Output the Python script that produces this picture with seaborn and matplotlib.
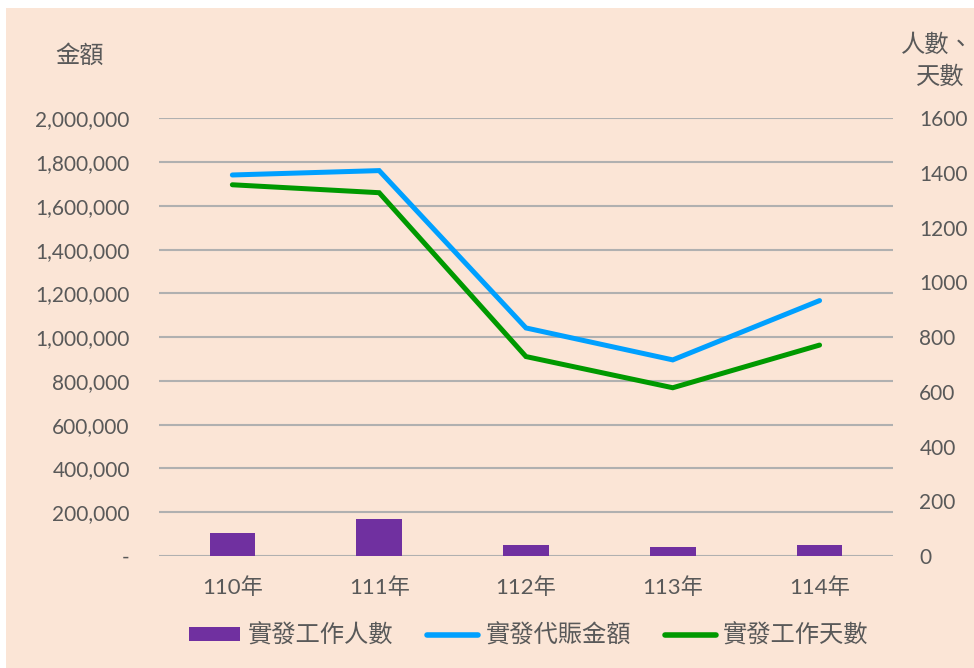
import matplotlib.pyplot as plt
import numpy as np
import pandas as pd
import seaborn as sns
from matplotlib.lines import Line2D
from matplotlib.patches import Patch, Rectangle
from matplotlib.ticker import FuncFormatter

years = ["110年", "111年", "112年", "113年", "114年"]
workers = [84, 135, 40, 33, 40]
payout = [1741000, 1761000, 1042000, 896000, 1167000]
work_days = [1357, 1328, 729, 615, 771]

BG = "#FBE5D6"
TEXT = "#595959"
PURPLE = "#7030A0"
BLUE = "#00A0FF"
GREEN = "#009900"


def money_fmt(v, _):
    return "-" if v == 0 else f"{v:,.0f}"


def main():
    sns.set_style("white")
    plt.rcParams["font.family"] = ["Lato", "Noto Sans CJK TC", "DejaVu Sans"]

    df = pd.DataFrame({"year": years, "x": np.arange(len(years)), "workers": workers,
                       "payout": payout, "days": work_days})

    fig = plt.figure(figsize=(9.74, 6.68), dpi=100, facecolor="white")
    fig.patches.append(Rectangle((6 / 974, 0), 1, 1 - 8 / 668, transform=fig.transFigure,
                                 facecolor=BG, edgecolor="none", zorder=-10))
    ax1 = fig.add_axes([0.1632, 0.1677, 0.7536, 0.6552])
    ax2 = ax1.twinx()
    for ax in (ax1, ax2):
        ax.set_facecolor("none")
        for s in ax.spines.values():
            s.set_visible(False)

    sns.barplot(data=df, x="year", y="workers", ax=ax2, color=PURPLE, width=0.31,
                saturation=1, linewidth=0)
    sns.lineplot(data=df, x="x", y="payout", ax=ax1, color=BLUE, linewidth=3.6,
                 solid_capstyle="round", solid_joinstyle="miter")
    sns.lineplot(data=df, x="x", y="days", ax=ax2, color=GREEN, linewidth=3.6,
                 solid_capstyle="round", solid_joinstyle="miter")

    ax1.set_xlim(-0.5, len(years) - 0.5)
    ax1.set_ylim(0, 2000000)
    ax1.set_yticks(np.arange(0, 2000001, 200000))
    ax1.yaxis.set_major_formatter(FuncFormatter(money_fmt))
    ax1.grid(axis="y", color="#B0B0B0", linewidth=1.5)
    ax1.set_axisbelow(True)
    ax1.set_xticks(np.arange(len(years)))
    ax1.set_xticklabels(years)

    ax2.set_ylim(0, 1600)
    ax2.set_yticks(np.arange(0, 1601, 200))
    ax2.grid(False)

    for ax in (ax1, ax2):
        ax.set_xlabel("")
        ax.set_ylabel("")
    ax1.tick_params(axis="y", length=0, pad=21, labelsize=15, labelcolor=TEXT)
    ax1.tick_params(axis="x", length=0, pad=15, labelsize=16, labelcolor=TEXT)
    ax2.tick_params(axis="y", length=0, pad=19, labelsize=15, labelcolor=TEXT)

    fig.text(80 / 974, 1 - 55 / 668, "金額", ha="center", va="center", fontsize=17.5, color=TEXT)
    fig.text(937 / 974, 1 - 45 / 668, "人數、", ha="center", va="center", fontsize=17.5, color=TEXT)
    fig.text(940 / 974, 1 - 77 / 668, "天數", ha="center", va="center", fontsize=17.5, color=TEXT)

    handles = [
        Patch(facecolor=PURPLE, edgecolor="none"),
        Line2D([], [], color=BLUE, linewidth=4, solid_capstyle="round"),
        Line2D([], [], color=GREEN, linewidth=4, solid_capstyle="round"),
    ]
    labels = ["實發工作人數", "實發代賑金額", "實發工作天數"]
    fig.legend(handles, labels, loc="center", bbox_to_anchor=(529 / 974, 1 - 635 / 668), ncol=3,
               frameon=False, fontsize=17.5, labelcolor=TEXT, handlelength=2.1,
               handletextpad=0.3, columnspacing=1.4, handleheight=0.5)

    fig.savefig("out.png", dpi=100, facecolor=fig.get_facecolor())


if __name__ == "__main__":
    main()
